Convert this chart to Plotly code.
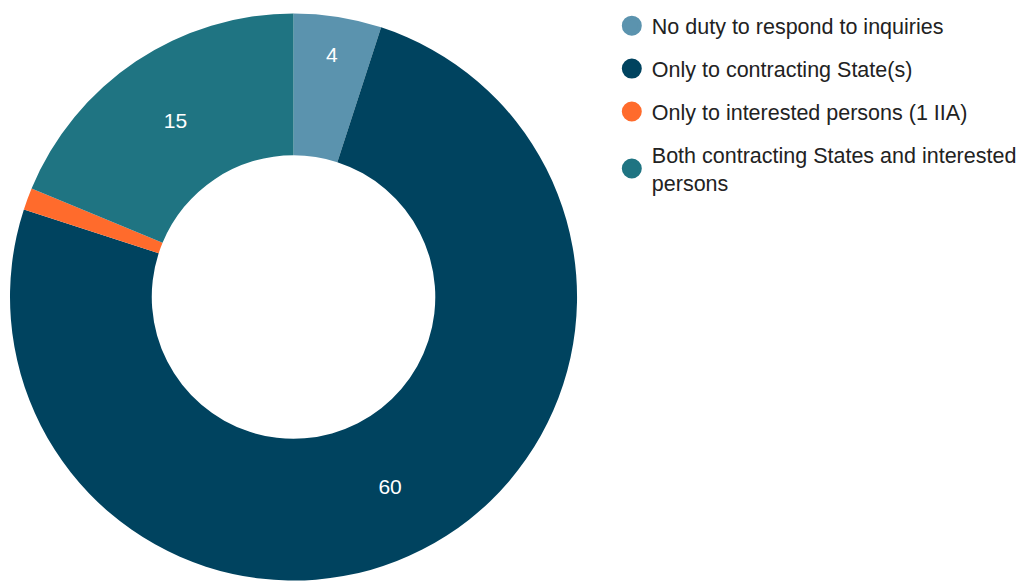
import plotly.graph_objects as go

categories = [
    "No duty to respond to inquiries",
    "Only to contracting State(s)",
    "Only to interested persons (1 IIA)",
    "Both contracting States and interested<br>persons",
]
values = [4, 60, 1, 15]
colors = ["#5B93AE", "#00435F", "#FF6B2C", "#1F7482"]
shown_text = ["%{value}", "%{value}", "", "%{value}"]

fig = go.Figure()
fig.add_trace(go.Pie(
    labels=categories,
    values=values,
    sort=False,
    direction="clockwise",
    rotation=0,
    hole=0.5,
    marker=dict(colors=colors, line=dict(width=0)),
    texttemplate=shown_text,
    textposition="inside",
    insidetextorientation="horizontal",
    textfont=dict(color="white", size=21, family="Liberation Sans, Arial, sans-serif"),
    showlegend=False,
    hoverinfo="label+value",
    domain=dict(x=[0, 571 / 1012], y=[0, 1]),
))

for i, (name, col) in enumerate(zip(categories, colors)):
    fig.add_trace(go.Scatter(
        x=[None], y=[None], mode="markers", name=name,
        legendgroup=f"g{i}",
        marker=dict(symbol="circle", size=16, color=col, line=dict(color=col, width=4)),
        showlegend=True,
    ))

fig.update_layout(
    width=1022, height=582,
    margin=dict(l=10, r=0, t=12, b=0),
    paper_bgcolor="white", plot_bgcolor="white",
    xaxis=dict(visible=False), yaxis=dict(visible=False),
    font=dict(family="Liberation Sans, Arial, sans-serif", color="#222222", size=21),
    legend=dict(
        x=(616 - 10) / 1012, xanchor="left",
        y=1.012, yanchor="top",
        tracegroupgap=12,
        itemsizing="trace",
        font=dict(size=21.5, color="#222222"),
        bgcolor="rgba(0,0,0,0)",
    ),
)

fig.write_html("out.html")
